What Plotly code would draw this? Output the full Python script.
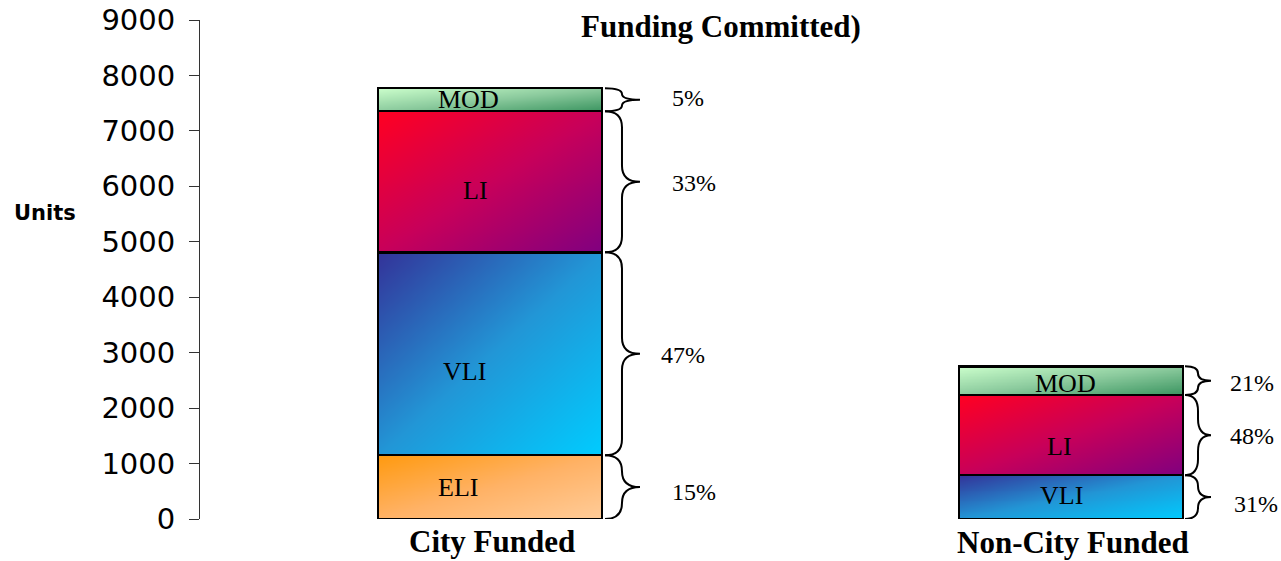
import numpy as np
import plotly.graph_objects as go

# ---------------- data ----------------
categories = ["City Funded", "Non-City Funded"]
levels = ["ELI", "VLI", "LI", "MOD"]                 # bottom -> top
city_units = [1150, 3660, 2545, 415]
noncity_units = [None, 790, 1445, 520]
city_pct = ["15%", "47%", "33%", "5%"]
noncity_pct = [None, "31%", "48%", "21%"]
y_tick_vals = [0, 1000, 2000, 3000, 4000, 5000, 6000, 7000, 8000, 9000]
title_text = "Funding Committed)"
y_title = "Units"

# ---------------- style ----------------
grad = {  # top-left colour -> middle -> bottom-right colour
    "ELI": ("#FF9A10", "#FFB266", "#FFCC99"),
    "VLI": ("#333399", "#2296D6", "#00CCFF"),
    "LI": ("#FF0022", "#C8005A", "#800080"),
    "MOD": ("#CCFFCC", "#8CCB9E", "#3A9460"),
}
bar_width = 0.3855
serif = "Liberation Serif"
# label nudges (px): x shift, downward shift, per category and level
lab_dx = [[-32, -25, -14, -21], [0, -10, -12, -6]]
lab_dy = [[0, 18, 9, 0], [0, -2, 11, 3]]
pct_dx = [[68, 57, 68, 68], [0, 49, 45, 45]]
pct_dy = [[5, 1, 1, -2], [0, 7, 1, 2]]
brace_geom = [(3, 20, 38), (2, 15, 28)]  # start, spine, tip (px from bar edge)

series = [city_units, noncity_units]
pcts = [city_pct, noncity_pct]

fig = go.Figure()
NG = 48
for ci, vals in enumerate(series):
    base = 0
    for li, lev in enumerate(levels):
        v = vals[li]
        if v is None:
            continue
        xl, xr = ci - bar_width / 2, ci + bar_width / 2
        yb, yt = base, base + v
        xe = np.linspace(xl, xr, NG + 1)
        ye = np.linspace(yb, yt, NG + 1)
        u = (np.arange(NG) + 0.5) / NG
        w = (np.arange(NG) + 0.5) / NG
        z = (u[None, :] + (1 - w[:, None])) / 2
        c1, cm, c2 = grad[lev]
        fig.add_trace(go.Heatmap(x=xe, y=ye, z=z, zmin=0, zmax=1, zsmooth="best",
                                 colorscale=[[0, c1], [0.5, cm], [1, c2]], showscale=False,
                                 hoverinfo="skip"))
        base += v

for li, lev in enumerate(levels):
    fig.add_trace(go.Bar(
        x=[0, 1], y=[series[0][li], series[1][li]], width=bar_width,
        marker=dict(color="rgba(0,0,0,0)", line=dict(color="black", width=2.5)),
        hoverinfo="skip", name=lev))

annotations = []
shapes = []
for ci, vals in enumerate(series):
    base = 0
    a, b, c = brace_geom[ci]
    for li, lev in enumerate(levels):
        v = vals[li]
        if v is None:
            continue
        yb, yt = base, base + v
        ym = (yb + yt) / 2
        annotations.append(dict(x=ci, y=ym, xref="x", yref="y", text=lev, showarrow=False,
                                xshift=lab_dx[ci][li], yshift=-lab_dy[ci][li],
                                font=dict(family=serif, size=26, color="black")))
        annotations.append(dict(x=ci + bar_width / 2, y=ym, xref="x", yref="y",
                                text=pcts[ci][li], showarrow=False, xanchor="left",
                                xshift=pct_dx[ci][li], yshift=-pct_dy[ci][li],
                                font=dict(family=serif, size=24, color="black")))
        r = min(290, v / 4)
        path = (f"M {a},{yt} Q {b},{yt} {b},{yt - r} L {b},{ym + r} "
                f"Q {b},{ym} {c},{ym} Q {b},{ym} {b},{ym - r} "
                f"L {b},{yb + r} Q {b},{yb} {a},{yb}")
        shapes.append(dict(type="path", xref="x", yref="y", xsizemode="pixel",
                           xanchor=ci + bar_width / 2, path=path,
                           line=dict(color="black", width=2), layer="above"))
        base += v

cat_y = [-0.046, -0.048]
for ci, cat in enumerate(categories):
    annotations.append(dict(x=ci, y=cat_y[ci], xref="x", yref="paper", text=f"<b>{cat}</b>",
                            showarrow=False, xshift=2, yanchor="middle",
                            font=dict(family=serif, size=31, color="black")))

annotations.append(dict(x=0.482, y=0.986, xref="paper", yref="paper", text=f"<b>{title_text}</b>",
                        showarrow=False, yanchor="middle",
                        font=dict(family=serif, size=31, color="black")))
annotations.append(dict(x=-0.1739, y=0.613, xref="paper", yref="paper", text=f"<b>{y_title}</b>",
                        showarrow=False, xanchor="left", yanchor="middle",
                        font=dict(family="DejaVu Sans", size=21, color="black")))

fig.update_layout(
    width=1281, height=561, margin=dict(l=200, r=0, t=20, b=42),
    paper_bgcolor="white", plot_bgcolor="white", showlegend=False, barmode="stack",
    annotations=annotations, shapes=shapes,
    xaxis=dict(range=[-0.4991, 1.3614], showgrid=False, zeroline=False,
               showticklabels=False, showline=False, ticks=""),
    yaxis=dict(range=[0, 9000], tickvals=y_tick_vals, showgrid=False, zeroline=False,
               showline=True, linecolor="#333", linewidth=1, ticks="outside",
               ticklen=10, tickcolor="#333", tickwidth=1, ticklabelstandoff=8,
               tickfont=dict(family="DejaVu Sans", size=29, color="black")),
)

fig.write_html("out.html")
